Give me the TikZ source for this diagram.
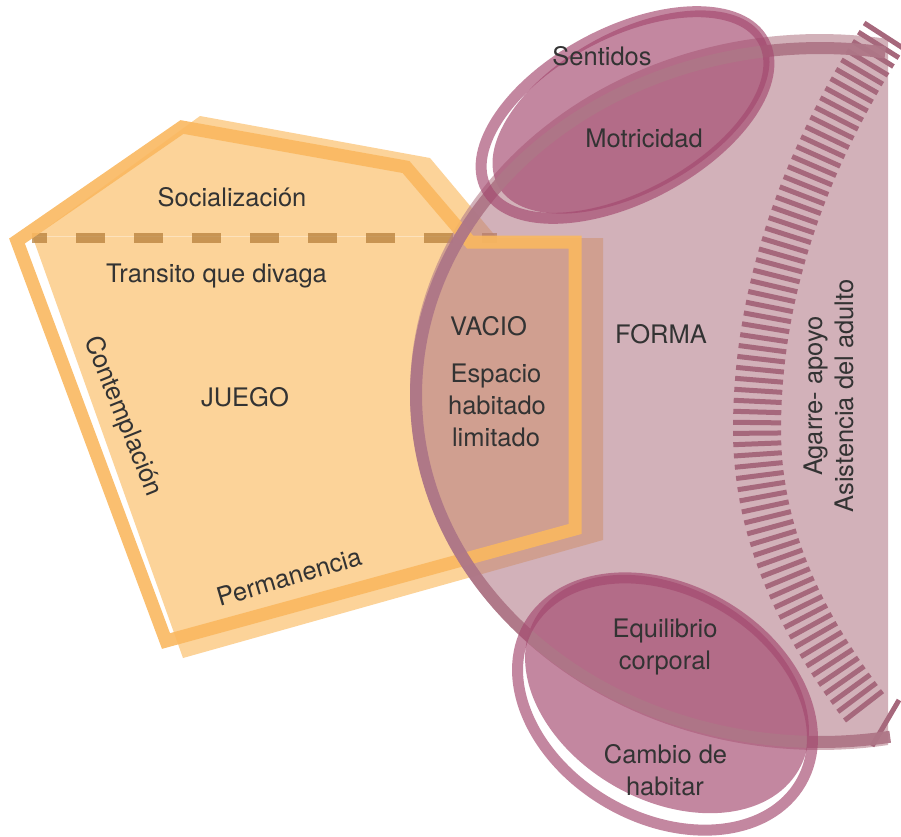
\documentclass[tikz,border=0pt]{standalone}
\usepackage{fontspec}
\setmainfont{TeX Gyre Heros}
\definecolor{borange}{RGB}{252,211,153}
\definecolor{aorange}{RGB}{250,184,96}
\definecolor{dashc}{RGB}{180,125,55}
\definecolor{mauve}{RGB}{180,125,138}
\definecolor{arcc}{RGB}{174,118,135}
\definecolor{hatchc}{RGB}{166,104,124}
\definecolor{pinkc}{RGB}{164,73,111}
\definecolor{txt}{RGB}{51,51,51}
\begin{document}
\begin{tikzpicture}[x=1pt,y=-1pt,
  lbl/.style={text=txt, font=\fontsize{25.5}{31.5}\selectfont, inner sep=0pt, anchor=base},
  bfill/.style={fill=borange},
  astroke/.style={draw=aorange, draw opacity=0.9, line width=13pt, line join=miter},
  dashline/.style={draw=dashc, draw opacity=0.72, line width=10pt, dash pattern=on 29pt off 29pt, dash phase=14pt},
  region/.style={fill=mauve, fill opacity=0.6},
  arcline/.style={draw=arcc, draw opacity=0.95, line width=12pt},
  tickline/.style={draw=hatchc, line width=5pt},
  efill/.style={fill=pinkc, fill opacity=0.66},
  ering/.style={draw=pinkc, draw opacity=0.66, line width=11pt},
]
\useasboundingbox (0,0) rectangle (901,836);
% light orange body
\fill[bfill] (200,116) -- (430,158) -- (497,238) -- (603,238) -- (603,540) -- (183,658) -- (33,238) -- cycle;
\draw[white, opacity=0.35, line width=0.8pt] (33,236.5) -- (490,236.5);
\draw[dashline] (32,238) -- (497,238);
% mauve half region
\fill[region] plot[domain=80.45:279.55, samples=120] ({820+410*cos(\x)},{392+358*sin(\x)}) -- cycle;
% orange outline
\draw[astroke] (182,127) -- (406,167) -- (470,242) -- (575,242) -- (575,529) -- (166,641) -- (17,241) -- cycle;
% hatched band (ticks normal to a curved band)
\gdef\ycur{36}
\foreach \i in {1,...,85}{
  \pgfmathsetmacro\dyh{(\ycur-430)/100}
  \pgfmathsetmacro\kk{\dyh<0 ? 8.2 : 14}
  \pgfmathsetmacro\xc{757+\kk*\dyh*\dyh}
  \pgfmathsetmacro\sl{2*\kk*\dyh/100}
  \pgfmathsetmacro\nn{sqrt(1+\sl*\sl)}
  \pgfmathsetmacro\nx{24/\nn}
  \pgfmathsetmacro\ny{-24*\sl/\nn}
  \ifdim\ycur pt<714pt
    \draw[tickline] ({\xc-\nx},{\ycur-(\ny)}) -- ({\xc+\nx},{\ycur+\ny});
  \fi
  \pgfmathsetmacro\ynext{\ycur+10.6/\nn}
  \xdef\ycur{\ynext}
}
\draw[tickline] (872,746) -- (899,700);
% ellipse fills
\fill[efill, shift={(631,112)}, rotate=29] (0,0) ellipse[x radius=152, y radius=80];
\fill[efill, shift={(667,694)}, rotate=-30] (0,0) ellipse[x radius=152, y radius=106];
% big arc
\draw[arcline] plot[domain=80:279.3, samples=150] ({820+404*cos(\x)},{395+347*sin(\x)});
% ellipse rings
\draw[ering, shift={(625,115)}, rotate=28] (0,0) ellipse[x radius=157, y radius=82];
\draw[ering, shift={(665,704)}, rotate=-30] (0,0) ellipse[x radius=157, y radius=114];
% labels
\node[lbl] (sentidos) at (602,65) {Sentidos};
\node[lbl] (motricidad) at (644,147) {Motricidad};
\node[lbl] (social) at (232,206) {Socialización};
\node[lbl] (transito) at (216.5,282) {Transito que divaga};
\node[lbl] (vacio) at (488.5,335) {VACIO};
\node[lbl] (esp1) at (496,382.7) {Espacio};
\node[lbl] (esp2) at (497,414.7) {habitado};
\node[lbl] (esp3) at (496,446.7) {limitado};
\node[lbl] (forma) at (661,343) {FORMA};
\node[lbl] (juego) at (245,406.7) {JUEGO};
\node[lbl, anchor=center, rotate=-68] (contemp) at (122.5,416.5) {Contemplación};
\node[lbl, anchor=center, rotate=16.4] (perm) at (289,577) {Permanencia};
\node[lbl, rotate=90] (agarre) at (822,396) {Agarre- apoyo};
\node[lbl, rotate=90] (asist) at (853,396) {Asistencia del adulto};
\node[lbl] (equi1) at (665,637) {Equilibrio};
\node[lbl] (equi2) at (665,669) {corporal};
\node[lbl] (camb1) at (665.5,763) {Cambio de};
\node[lbl] (camb2) at (665,795) {habitar};
\end{tikzpicture}
\end{document}
